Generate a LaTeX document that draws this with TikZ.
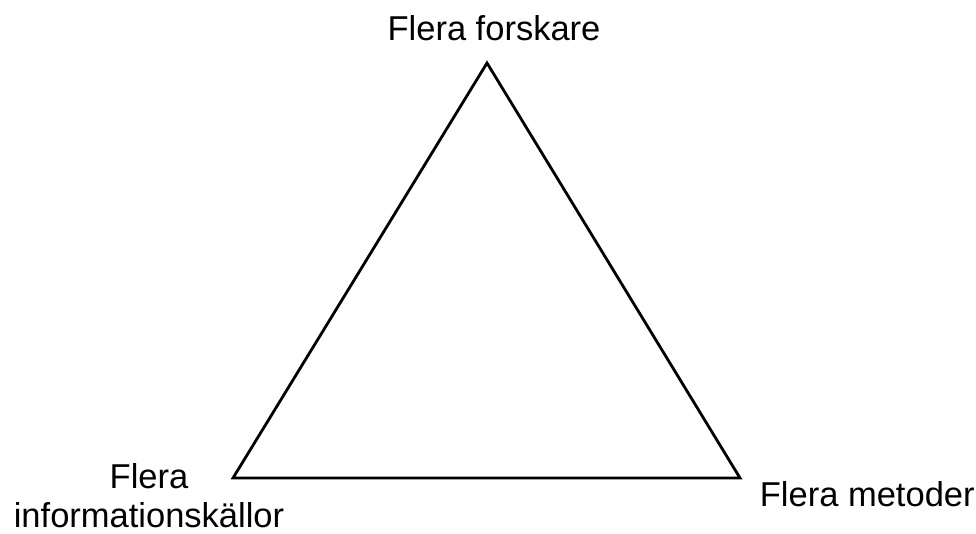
\documentclass[tikz,border=0pt]{standalone}
\usepackage{fontspec}
\setmainfont{Liberation Sans}

\begin{document}
\begin{tikzpicture}[x=1pt,y=1pt,line width=2.8pt,
  hoek/.style={font=\fontsize{34.5}{39}\selectfont,inner sep=0pt,align=center}]
\useasboundingbox (0,0) rectangle (976,533);
% hörn
\coordinate (topp) at (487,470);
\coordinate (vanster) at (233,55);
\coordinate (hoger) at (740,55);
% triangel
\draw[line join=miter] (topp) -- (vanster) -- (hoger) -- cycle;
% etiketter
\node[hoek,anchor=base] (forskare) at (494,492) {Flera forskare};
\node[hoek,anchor=base] (kallor) at (149,6) {Flera\\informationskällor};
\node[hoek,anchor=base west] (metoder) at (758.5,27) {Flera metoder};
\end{tikzpicture}
\end{document}
